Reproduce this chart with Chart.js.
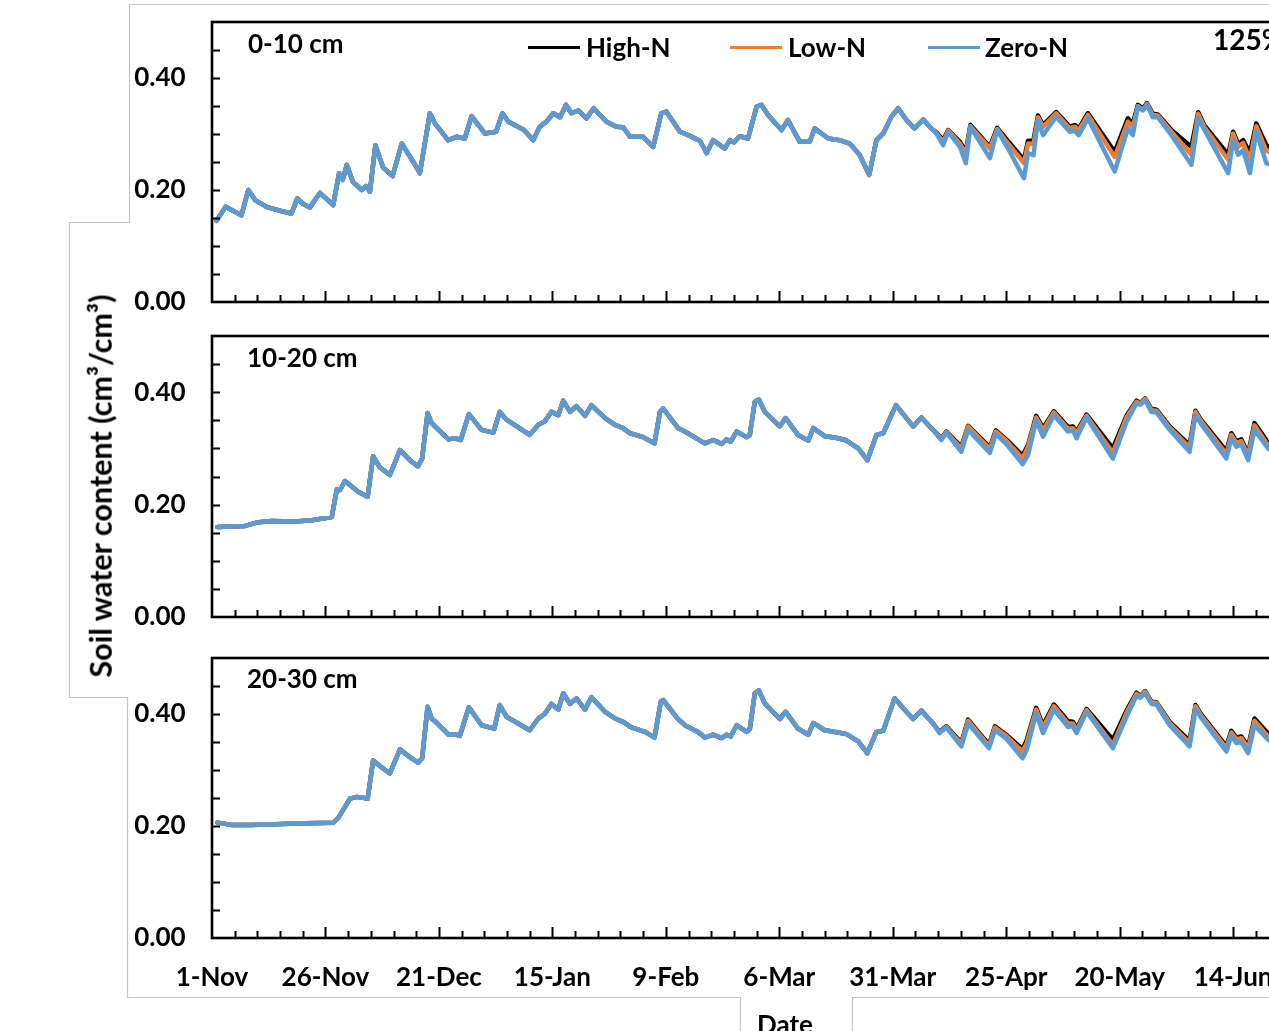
<!DOCTYPE html>
<html>
<head>
<meta charset="utf-8">
<title>Soil water content</title>
<script src="https://cdn.jsdelivr.net/npm/chart.js@4.4.1/dist/chart.umd.min.js"></script>
<style>
    html, body { margin: 0; padding: 0; background: #fff; overflow: hidden; }
    #wrap { position: relative; width: 1269px; height: 1031px; overflow: hidden;
            font-family: Lato, "Open Sans", sans-serif; font-weight: bold; color: #000; }
    #wrap canvas { position: absolute; left: 0; }
    #wrap svg { position: absolute; left: 0; top: 0; }
    .txt { position: absolute; white-space: nowrap; line-height: 1; }
    .swatch { position: absolute; width: 52px; height: 3px; }
</style>
</head>
<body>
<div id="wrap">
    <svg width="1269" height="1031">
        <polyline points="1269,4.5 129.5,4.5 129.5,222.5 69.5,222.5 69.5,697.5 127.5,697.5 127.5,997.5 740.5,997.5 740.5,1031"
                  fill="none" stroke="#c4c4c4" stroke-width="1.2"/>
        <polyline points="852.5,1031 852.5,997.5 1269,997.5" fill="none" stroke="#c4c4c4" stroke-width="1.2"/>
    </svg>

    <!-- Chart.js keeps ~42px above and below the plot for the tick labels, so the canvases overlap;
         the date labels of the bottom panel also reserve 24px on the right -->
    <canvas id="panel1" width="1392" height="364" style="top:-20px"></canvas>
    <canvas id="panel2" width="1392" height="365" style="top:294px"></canvas>
    <canvas id="panel3" width="1416" height="415" style="top:616px"></canvas>

    <div class="txt" style="left:248px;top:30px;font-size:26px">0-10 cm</div>
    <div class="txt" style="left:247px;top:344px;font-size:26px">10-20 cm</div>
    <div class="txt" style="left:247px;top:665px;font-size:26px">20-30 cm</div>

    <div class="swatch" style="left:528px;top:46px;background:#000"></div>
    <div class="txt" style="left:586px;top:34px;font-size:26px">High-N</div>
    <div class="swatch" style="left:730px;top:46px;background:#ED7D31"></div>
    <div class="txt" style="left:788px;top:34px;font-size:26px">Low-N</div>
    <div class="swatch" style="left:928px;top:46px;background:#5B9BD5"></div>
    <div class="txt" style="left:985px;top:34px;font-size:26px">Zero-N</div>
    <div class="txt" style="left:1213px;top:25px;font-size:28px">125%</div>

    <div class="txt" style="left:100px;top:486px;font-size:30.5px;transform:translate(-50%,-50%) rotate(-90deg)">Soil water content (cm³/cm³)</div>
    <div class="txt" style="left:757px;top:1011px;font-size:26px">Date</div>
</div>

<script>
// days after 1-Nov
const xTicks = ["1-Nov", "26-Nov", "21-Dec", "15-Jan", "9-Feb", "6-Mar", "31-Mar", "25-Apr", "20-May", "14-Jun", "9-Jul"];
const yTicks = ["0.00", "0.20", "0.40"];
const seriesNames = ["High-N", "Low-N", "Zero-N"];

// 0-10 cm: all treatments overlap until early April
const days010 = [1, 3, 6.5, 8, 9.5, 12, 15, 17.5, 18.8, 20.1, 21.6, 23.8, 26.7, 28, 28.8, 29.7, 31, 33, 33.9, 34.8,
    36, 37.7, 39.8, 41.8, 44.3, 45.8, 48, 49.1, 52, 53.9, 55.7, 57.2, 60.1, 62.6, 64, 65.3, 68.6, 70.8, 72.2, 73.7,
    75.2, 76.7, 78, 79.2, 80.7, 82.5, 84.1, 86.9, 89.1, 90.6, 92.1, 95, 97.2, 99, 100.1, 103.1, 104.9, 107.5, 109, 110.4,
    113, 114.1, 115, 116.3, 118.1, 120, 121.1, 122.5, 125.5, 126.9, 129.5, 131.7, 132.8, 135.8, 138.3, 140.5, 142.7, 144.8, 146.4, 147.9,
    149.7, 151.2, 153, 154.8, 156.7, 158.5];
const swc010 = [0.145, 0.170, 0.155, 0.200, 0.182, 0.170, 0.163, 0.158, 0.185, 0.175, 0.169, 0.195, 0.173, 0.230, 0.218, 0.245, 0.215, 0.200, 0.207, 0.197,
    0.280, 0.240, 0.225, 0.283, 0.251, 0.230, 0.337, 0.319, 0.289, 0.295, 0.292, 0.332, 0.301, 0.304, 0.337, 0.322, 0.308, 0.289, 0.313, 0.322,
    0.337, 0.330, 0.352, 0.337, 0.342, 0.328, 0.346, 0.322, 0.313, 0.312, 0.295, 0.295, 0.277, 0.337, 0.340, 0.304, 0.298, 0.288, 0.266, 0.289,
    0.274, 0.289, 0.285, 0.296, 0.292, 0.349, 0.352, 0.334, 0.307, 0.325, 0.286, 0.286, 0.310, 0.292, 0.289, 0.283, 0.263, 0.227, 0.289, 0.301,
    0.331, 0.346, 0.325, 0.310, 0.326, 0.310];
const late010 = [159.6, 161.1, 162.2, 164.8, 166.1, 167.1, 171.4, 173, 175.4, 178.9, 179.8, 181, 182, 183.1, 186, 189, 190.1, 191, 193,
    198.9, 201.8, 202.9, 204, 205.1, 206, 207.3, 208.4, 211.4, 215.8, 217.3, 218.7, 223.9, 225, 226.1, 227.2, 228.7, 230.1, 232.3, 235];
const high010 = [0.303, 0.289, 0.307, 0.286, 0.268, 0.316, 0.277, 0.311, 0.287, 0.254, 0.288, 0.288, 0.333, 0.316, 0.339, 0.313, 0.316, 0.310, 0.337,
    0.268, 0.328, 0.318, 0.352, 0.345, 0.355, 0.336, 0.335, 0.307, 0.277, 0.339, 0.315, 0.263, 0.304, 0.282, 0.289, 0.266, 0.319, 0.280, 0.270];
const low010 = [0.302, 0.286, 0.306, 0.283, 0.264, 0.314, 0.274, 0.309, 0.283, 0.248, 0.283, 0.282, 0.330, 0.313, 0.337, 0.310, 0.313, 0.307, 0.334,
    0.259, 0.322, 0.312, 0.350, 0.343, 0.354, 0.334, 0.333, 0.304, 0.263, 0.336, 0.312, 0.254, 0.301, 0.277, 0.284, 0.254, 0.314, 0.270, 0.262];
const zero010 = [0.301, 0.280, 0.304, 0.277, 0.248, 0.313, 0.257, 0.307, 0.274, 0.221, 0.266, 0.262, 0.325, 0.298, 0.331, 0.304, 0.306, 0.298, 0.328,
    0.233, 0.310, 0.298, 0.349, 0.342, 0.352, 0.330, 0.330, 0.298, 0.245, 0.328, 0.307, 0.230, 0.289, 0.263, 0.271, 0.230, 0.304, 0.248, 0.240];

// 10-20 cm
const days1020 = [1.2, 7.3, 9.8, 13.1, 18.3, 22, 26.4, 27.5, 28.2, 29.3, 32.2, 34.3, 35.5, 37, 39.2, 41.4, 43.6, 45.4, 46.3, 47.5,
    48.4, 49.8, 52.1, 53.5, 54.8, 56.6, 59.4, 62, 63.4, 64.9, 70, 71.9, 73.3, 74.8, 76.3, 77.4, 78.9, 80.3, 82.2, 83.6,
    86.6, 88.8, 90.6, 92.1, 95, 97.5, 98.7, 99.4, 102.7, 104.2, 107.1, 108.6, 110.4, 112.3, 113.4, 114.3, 115.6, 117.8, 118.5, 119.6,
    120.5, 121.8, 125.1, 126.4, 129.1, 131.4, 132.5, 135, 138, 139.8, 142.4, 144.4, 146.4, 147.9, 150.7, 153, 154.5, 156.3, 158.5];
const swc1020 = [0.160, 0.162, 0.168, 0.171, 0.170, 0.172, 0.178, 0.227, 0.226, 0.242, 0.223, 0.214, 0.286, 0.266, 0.253, 0.297, 0.279, 0.268, 0.282, 0.363,
    0.345, 0.334, 0.316, 0.318, 0.315, 0.361, 0.333, 0.328, 0.365, 0.351, 0.324, 0.342, 0.348, 0.365, 0.359, 0.385, 0.365, 0.375, 0.358, 0.377,
    0.354, 0.342, 0.336, 0.327, 0.320, 0.309, 0.365, 0.371, 0.336, 0.330, 0.316, 0.309, 0.315, 0.308, 0.316, 0.312, 0.330, 0.320, 0.324, 0.383,
    0.387, 0.365, 0.339, 0.354, 0.324, 0.314, 0.336, 0.322, 0.318, 0.314, 0.300, 0.279, 0.324, 0.327, 0.377, 0.354, 0.339, 0.355, 0.336];
const late1020 = [160.7, 161.8, 165.1, 166.6, 171.4, 172.7, 175, 178.6, 179.8, 181.6, 183.1, 185.5, 188.6, 189.7, 190.5, 192.7,
    198.5, 201.5, 203.7, 204.6, 205.6, 207, 208.1, 211, 215.4, 216.7, 217.8, 223.5, 224.6, 225.7, 226.8, 228.3, 229.7, 232.7, 235];
const high1020 = [0.318, 0.330, 0.303, 0.340, 0.302, 0.332, 0.316, 0.287, 0.306, 0.358, 0.336, 0.366, 0.338, 0.339, 0.330, 0.360,
    0.300, 0.358, 0.385, 0.381, 0.389, 0.370, 0.369, 0.339, 0.306, 0.367, 0.352, 0.295, 0.327, 0.313, 0.316, 0.290, 0.345, 0.310, 0.300];
const low1020 = [0.317, 0.329, 0.300, 0.339, 0.299, 0.330, 0.314, 0.282, 0.303, 0.355, 0.333, 0.364, 0.335, 0.336, 0.327, 0.358,
    0.292, 0.355, 0.383, 0.380, 0.388, 0.368, 0.367, 0.337, 0.302, 0.365, 0.350, 0.290, 0.324, 0.310, 0.313, 0.287, 0.341, 0.305, 0.296];
const zero1020 = [0.315, 0.328, 0.294, 0.333, 0.292, 0.325, 0.308, 0.272, 0.288, 0.350, 0.321, 0.359, 0.330, 0.332, 0.318, 0.355,
    0.282, 0.347, 0.380, 0.378, 0.386, 0.365, 0.364, 0.333, 0.294, 0.359, 0.345, 0.282, 0.318, 0.303, 0.307, 0.279, 0.333, 0.300, 0.290];

// 20-30 cm
const days2030 = [1.2, 4.3, 8.7, 20.5, 26.7, 27.8, 30.4, 31.9, 34.3, 35.5, 37, 39.2, 41.4, 43.6, 45.4, 46.3, 47.5, 48.4, 49.8, 52.1,
    53.5, 54.6, 56.6, 59.4, 62.2, 63.4, 64.9, 70, 71.9, 73.3, 74.8, 76.3, 77.4, 78.9, 80.3, 82.2, 83.6, 86.6, 88.8, 90.6,
    92.4, 95.4, 97.5, 98.9, 99.4, 102.7, 104.2, 107.1, 108.6, 110.4, 112.3, 113.4, 114.3, 115.6, 117.8, 118.5, 119.6, 120.5, 121.8, 125.1,
    126.4, 129.1, 131.4, 132.5, 135, 138, 139.8, 142.4, 144.4, 146.4, 147.9, 150.4, 153, 154.5, 156.3, 158.9];
const swc2030 = [0.206, 0.202, 0.202, 0.205, 0.206, 0.214, 0.249, 0.252, 0.249, 0.317, 0.307, 0.294, 0.337, 0.323, 0.313, 0.321, 0.413, 0.392, 0.382, 0.363,
    0.364, 0.361, 0.412, 0.380, 0.374, 0.416, 0.395, 0.371, 0.392, 0.400, 0.418, 0.408, 0.437, 0.418, 0.428, 0.408, 0.430, 0.404, 0.392, 0.386,
    0.376, 0.368, 0.358, 0.422, 0.425, 0.391, 0.380, 0.368, 0.358, 0.363, 0.357, 0.363, 0.360, 0.380, 0.368, 0.373, 0.437, 0.442, 0.419, 0.391,
    0.404, 0.374, 0.363, 0.384, 0.371, 0.367, 0.364, 0.351, 0.330, 0.368, 0.370, 0.428, 0.404, 0.391, 0.406, 0.383];
const late2030 = [160.3, 161.8, 165.1, 166.6, 171.2, 172.5, 175, 178.6, 179.5, 181.6, 183.1, 185.5, 188.6, 189.7, 190.5, 192.7,
    198.5, 201.5, 203.7, 204.6, 205.6, 207, 208.1, 211, 215.4, 216.7, 217.8, 223.5, 224.6, 225.7, 226.8, 228.3, 229.7, 232.7, 235];
const high2030 = [0.368, 0.378, 0.349, 0.390, 0.345, 0.378, 0.363, 0.337, 0.353, 0.411, 0.380, 0.417, 0.387, 0.386, 0.373, 0.409,
    0.354, 0.406, 0.438, 0.432, 0.441, 0.422, 0.421, 0.386, 0.352, 0.416, 0.401, 0.342, 0.370, 0.358, 0.360, 0.342, 0.392, 0.365, 0.355];
const low2030 = [0.367, 0.377, 0.347, 0.388, 0.343, 0.376, 0.361, 0.333, 0.348, 0.408, 0.376, 0.414, 0.383, 0.383, 0.370, 0.407,
    0.345, 0.402, 0.436, 0.431, 0.440, 0.421, 0.420, 0.384, 0.348, 0.414, 0.399, 0.339, 0.367, 0.355, 0.357, 0.338, 0.388, 0.360, 0.350];
const zero2030 = [0.366, 0.376, 0.342, 0.383, 0.339, 0.371, 0.356, 0.321, 0.336, 0.401, 0.366, 0.408, 0.377, 0.378, 0.366, 0.404,
    0.339, 0.395, 0.432, 0.429, 0.437, 0.418, 0.417, 0.380, 0.342, 0.408, 0.395, 0.333, 0.362, 0.348, 0.350, 0.330, 0.380, 0.354, 0.344];

const colors = ["#000000", "#ED7D31", "#5B9BD5"];

function toPoints(days, values) {
    return days.map((d, i) => ({ x: d, y: values[i] }));
}

// black frame with inward tick marks, as in the Excel original
const framePlugin = {
    id: "frame",
    afterDatasetsDraw(chart) {
        const { ctx, chartArea: a, scales: { x, y } } = chart;
        ctx.save();
        ctx.strokeStyle = "#000";
        ctx.lineWidth = 2;
        ctx.beginPath();
        for (let i = 1; i < 10; i++) {
            const py = Math.round(y.getPixelForValue(i * 0.05)) + 0.5;
            ctx.moveTo(a.left, py);
            ctx.lineTo(a.left + 8, py);
        }
        for (let d = 5; d <= x.max; d += 5) {
            const px = Math.round(x.getPixelForValue(d)) + 0.5;
            ctx.moveTo(px, a.bottom);
            ctx.lineTo(px, a.bottom - (d % 25 === 0 ? 11 : 7));
        }
        ctx.stroke();
        ctx.lineWidth = 2.6;
        ctx.strokeRect(a.left, a.top, a.right - a.left, a.bottom - a.top);
        ctx.restore();
    }
};

function makePanel(canvasId, days, shared, late, series, axisHeight, showDates) {
    const datasets = series.map((vals, i) => ({
        label: seriesNames[i],
        data: toPoints(days.concat(late), shared.concat(vals)),
        borderColor: colors[i],
        borderWidth: 4.5,
        pointRadius: 0,
        tension: 0,
        borderJoinStyle: "round",
        borderCapStyle: "round",
        order: 3 - i
    }));

    return new Chart(document.getElementById(canvasId), {
        type: "line",
        data: { datasets: datasets },
        options: {
            responsive: false,
            animation: false,
            devicePixelRatio: 1,
            layout: { autoPadding: false, padding: 0 },
            plugins: { legend: { display: false }, tooltip: { enabled: false } },
            scales: {
                x: {
                    type: "linear",
                    min: 0,
                    max: 260,
                    grid: { display: false, drawTicks: false },
                    border: { display: false },
                    ticks: {
                        display: showDates,
                        stepSize: 5,
                        autoSkip: false,
                        maxRotation: 0,
                        padding: 24,
                        color: "#000",
                        font: { size: 26, weight: "bold" },
                        callback: v => (Math.round(v) % 25 === 0 ? xTicks[Math.round(v) / 25] : "")
                    },
                    afterFit: s => { s.height = axisHeight; }
                },
                y: {
                    min: 0,
                    max: 0.5,
                    grid: { display: false, drawTicks: false },
                    border: { display: false },
                    ticks: {
                        stepSize: 0.1,
                        padding: 26.4,
                        color: "#000",
                        font: { size: 26, weight: "bold" },
                        callback: v => yTicks.find(t => Math.abs(parseFloat(t) - v) < 1e-6) || ""
                    },
                    afterFit: s => { s.width = 212; }
                }
            }
        },
        plugins: [framePlugin]
    });
}

Chart.defaults.font.family = "Lato, 'Open Sans', sans-serif";

makePanel("panel1", days010, swc010, late010, [high010, low010, zero010], 42, false);
makePanel("panel2", days1020, swc1020, late1020, [high1020, low1020, zero1020], 42, false);
makePanel("panel3", days2030, swc2030, late2030, [high2030, low2030, zero2030], 93, true);
</script>
</body>
</html>
